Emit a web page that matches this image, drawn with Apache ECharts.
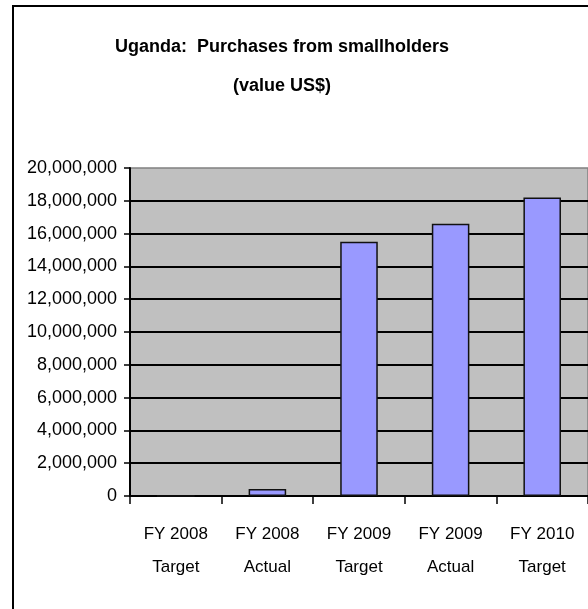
<!DOCTYPE html>
<html>
<head>
<meta charset="utf-8">
<script src="https://cdn.jsdelivr.net/npm/echarts@6/dist/echarts.min.js"></script>
<style>
  html, body { margin: 0; padding: 0; background: #fff; }
  #chart { width: 588px; height: 609px; }
</style>
</head>
<body>
<div id="chart"></div>
<script>
  // data
  const categories = ['FY 2008\nTarget', 'FY 2008\nActual', 'FY 2009\nTarget', 'FY 2009\nActual', 'FY 2010\nTarget'];
  const purchases = [0, 420000, 15500000, 16600000, 18200000];
  const yMax = 20000000;
  const yStep = 2000000;

  const font = '"Liberation Sans", Arial, sans-serif';
  const chart = echarts.init(document.getElementById('chart'));

  chart.setOption({
    animation: false,
    title: {
      text: 'Uganda:  Purchases from smallholders\n(value US$)',
      left: 277,
      textAlign: 'center',
      top: 23,
      textStyle: {
        fontFamily: font,
        fontSize: 18,
        fontWeight: 'bold',
        color: '#000',
        lineHeight: 39
      }
    },
    graphic: [{
      // outer chart-area frame, cut off at right and bottom
      type: 'rect',
      shape: { x: 13, y: 6, width: 700, height: 700 },
      style: { fill: 'none', stroke: '#000', lineWidth: 2 },
      z: 0
    }],
    grid: {
      left: 130,
      right: -7,
      top: 168,
      bottom: 113,
      show: true,
      backgroundColor: '#c0c0c0',
      borderColor: '#808080',
      borderWidth: 1.5
    },
    xAxis: {
      type: 'category',
      data: categories,
      axisLine: { lineStyle: { color: '#000', width: 2 } },
      axisTick: { show: true, length: 8, lineStyle: { color: '#000', width: 1.5 } },
      axisLabel: {
        interval: 0,
        margin: 22,
        color: '#000',
        fontFamily: font,
        fontSize: 17,
        lineHeight: 33
      }
    },
    yAxis: {
      type: 'value',
      min: 0,
      max: yMax,
      interval: yStep,
      axisLine: { show: true, lineStyle: { color: '#000', width: 2 } },
      axisTick: { show: true, length: 6, lineStyle: { color: '#000', width: 1.5 } },
      splitLine: { showMaxLine: false, lineStyle: { color: '#000', width: 2 } },
      axisLabel: {
        margin: 13,
        color: '#000',
        fontFamily: font,
        fontSize: 18,
        formatter: v => v.toLocaleString('en-US')
      }
    },
    series: [{
      type: 'bar',
      data: purchases,
      barWidth: '41%',
      itemStyle: {
        color: '#9999ff',
        borderColor: '#111',
        borderWidth: 1.5
      }
    }]
  });
</script>
</body>
</html>
